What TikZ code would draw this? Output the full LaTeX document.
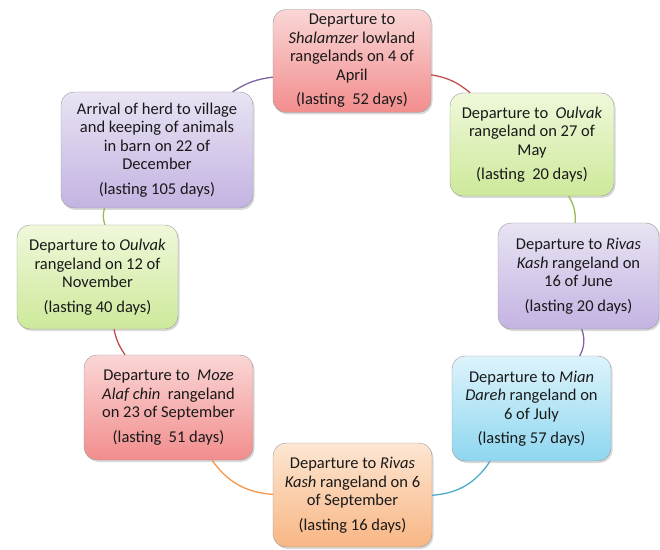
\documentclass[tikz,border=0pt]{standalone}
\usepackage{fontspec}
\setmainfont{Carlito}
\usetikzlibrary{shadows}

\definecolor{redtop}{HTML}{FAD6D6}
\definecolor{redbot}{HTML}{F28D8D}
\definecolor{greentop}{HTML}{EFF8DA}
\definecolor{greenbot}{HTML}{CDE99A}
\definecolor{purpletop}{HTML}{E9E3F3}
\definecolor{purplebot}{HTML}{C3B3E2}
\definecolor{bluetop}{HTML}{DDF3FB}
\definecolor{bluebot}{HTML}{8ED7F0}
\definecolor{orangetop}{HTML}{FDE6D2}
\definecolor{orangebot}{HTML}{F8B684}
\definecolor{redline}{HTML}{C0504D}
\definecolor{greenline}{HTML}{9BBB59}
\definecolor{purpleline}{HTML}{8064A2}
\definecolor{blueline}{HTML}{4BACC6}
\definecolor{orangeline}{HTML}{F79646}

\begin{document}
\begin{tikzpicture}[x=1pt, y=1pt,
    stage/.style={draw=black!40, rounded corners=13pt, align=center, inner sep=2pt,
      text=black!90, font=\fontsize{16.5}{18.5}\selectfont,
      drop shadow={shadow xshift=1.5pt, shadow yshift=-2pt, opacity=0.3}},
    link/.style={line width=1.3pt}]
      \useasboundingbox (0,0) rectangle (660,549);

      % stages of the yearly migration
      \node[stage, top color=redtop, bottom color=redbot, minimum width=158pt, minimum height=103pt] (s1) at (352,488)
        {Departure to\\ \textit{Shalamzer} lowland\\ rangelands on 4 of\\ April\\[6pt] (lasting~ 52 days)};
      \node[stage, top color=greentop, bottom color=greenbot, minimum width=164pt, minimum height=103pt] (s2) at (532,404.5)
        {Departure to~ \textit{Oulvak}\\ rangeland on 27 of\\ May\\[6pt] (lasting~ 20 days)};
      \node[stage, top color=purpletop, bottom color=purplebot, minimum width=161pt, minimum height=106pt] (s3) at (578.5,273)
        {Departure to \textit{Rivas}\\ \textit{Kash} rangeland on\\ 16 of June\\[6pt] (lasting 20 days)};
      \node[stage, top color=bluetop, bottom color=bluebot, minimum width=159pt, minimum height=105pt] (s4) at (531.5,140.5)
        {Departure to \textit{Mian}\\ \textit{Dareh} rangeland on\\ 6 of July\\[6pt] (lasting 57 days)};
      \node[stage, top color=orangetop, bottom color=orangebot, minimum width=159pt, minimum height=104pt] (s5) at (352.5,54)
        {Departure to \textit{Rivas}\\ \textit{Kash} rangeland on 6\\ of September\\[6pt] (lasting 16 days)};
      \node[stage, top color=redtop, bottom color=redbot, minimum width=169pt, minimum height=105pt] (s6) at (168.5,141.5)
        {Departure to~ \textit{Moze}\\ \textit{Alaf chin}~ rangeland\\ on 23 of September\\[6pt] (lasting~ 51 days)};
      \node[stage, top color=greentop, bottom color=greenbot, minimum width=161pt, minimum height=104pt] (s7) at (97.5,272)
        {Departure to \textit{Oulvak}\\ rangeland on 12 of\\ November\\[6pt] (lasting 40 days)};
      \node[stage, top color=purpletop, bottom color=purplebot, minimum width=192pt, minimum height=116pt] (s8) at (157,399)
        {Arrival of herd to village\\ and keeping of animals\\ in barn on 22 of\\ December\\[6pt] (lasting 105 days)};

      % cycle
      \draw[link, redline] (s1) to [bend left = 15] (s2);
      \draw[link, greenline] (s2) to [bend left = 16] (s3);
      \draw[link, purpleline] (s3) to [bend left = 23] (s4);
      \draw[link, blueline] (s4) to [bend left = 26] (s5);
      \draw[link, orangeline] (s5) to [bend left = 25] (s6);
      \draw[link, redline] (s6) to [bend left = 11] (s7);
      \draw[link, greenline] (s7) to [bend left = 17] (s8);
      \draw[link, purpleline] (s8) to [bend left = 13] (s1);
\end{tikzpicture}
\end{document}
